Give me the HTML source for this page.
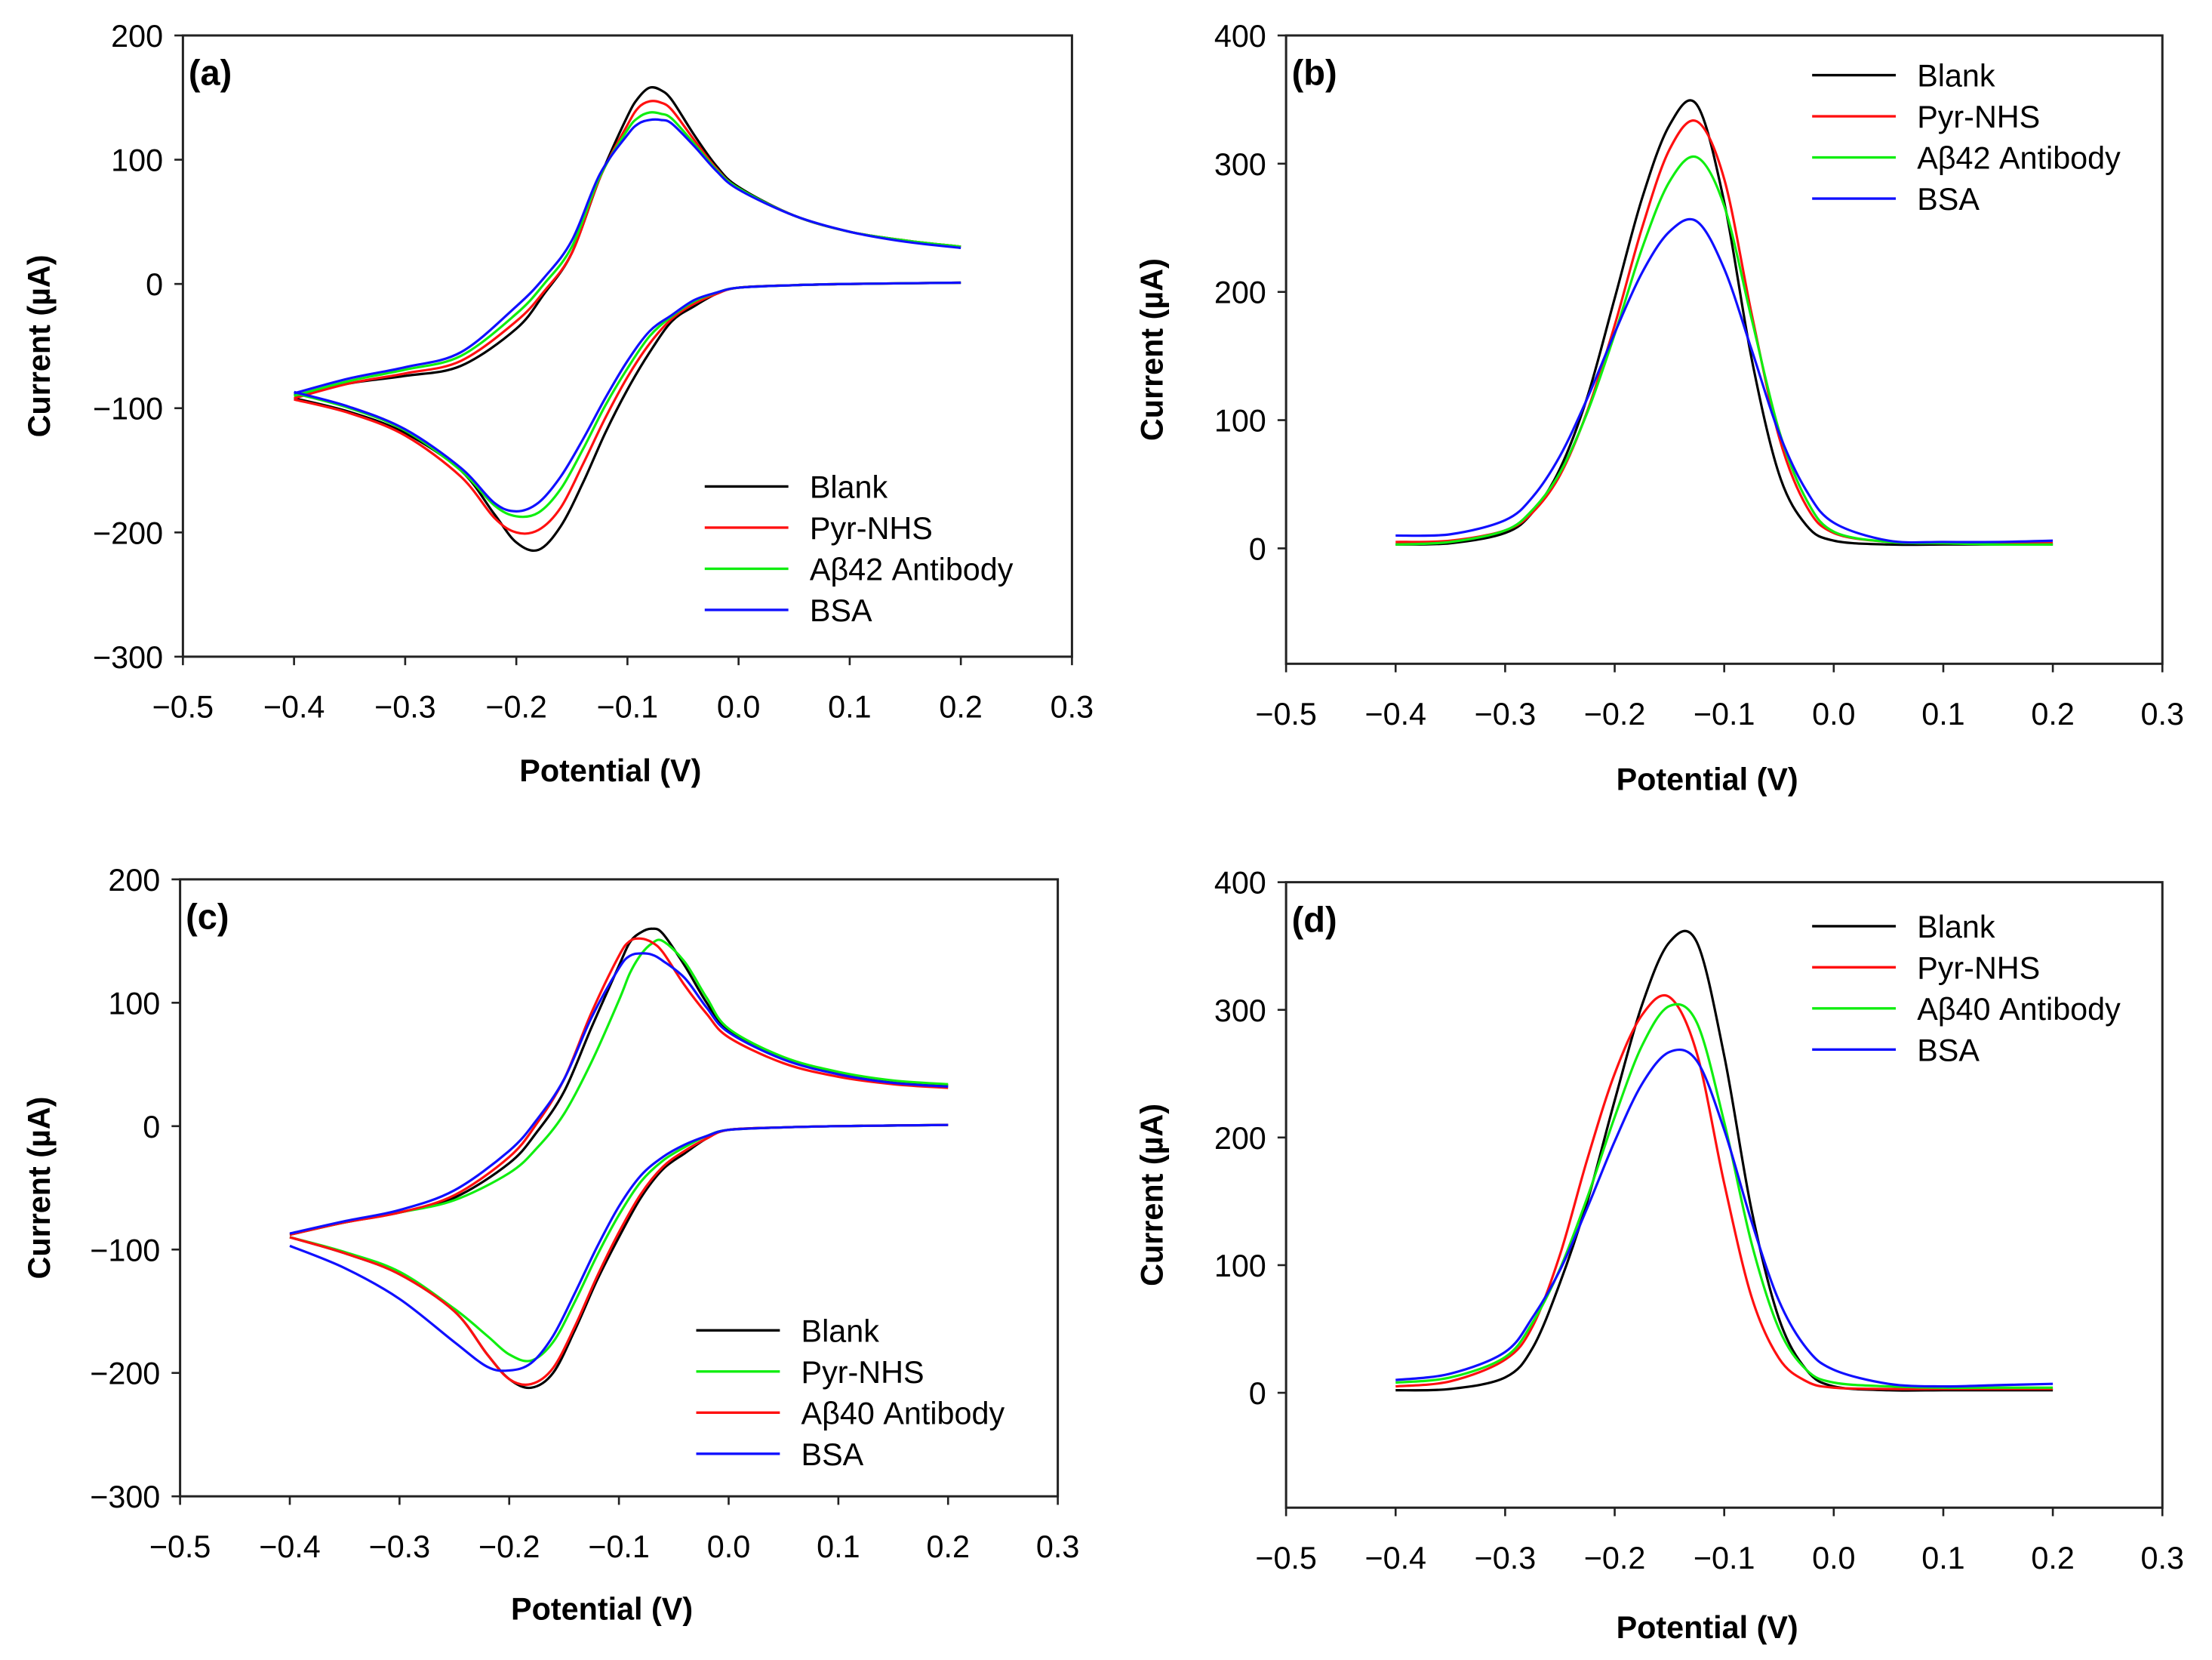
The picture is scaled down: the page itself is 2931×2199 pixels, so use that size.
<!DOCTYPE html>
<html><head><meta charset="utf-8"><style>
html,body{margin:0;padding:0;background:#fff;}
svg{display:block;}
text{font-family:"Liberation Sans",sans-serif;fill:#000;}
</style></head><body>
<svg id="fig" width="2931" height="2199" viewBox="0 0 1560 1170.4" preserveAspectRatio="none" xmlns="http://www.w3.org/2000/svg"></svg>
<script>
// ---- shared grids ----
const cvFwdE = [-0.4,-0.35,-0.3,-0.25,-0.2,-0.175,-0.15,-0.125,-0.1,-0.09,-0.08,-0.07,-0.06,-0.04,-0.02,0,0.05,0.1,0.15,0.2];
const cvRevE = [0.2,0.1,0.05,0,-0.02,-0.04,-0.06,-0.08,-0.1,-0.12,-0.14,-0.16,-0.18,-0.2,-0.22,-0.25,-0.3,-0.35,-0.4];
const dpvE = [-0.4,-0.35,-0.3,-0.275,-0.25,-0.225,-0.2,-0.175,-0.15,-0.125,-0.1,-0.075,-0.05,-0.025,0,0.05,0.1,0.15,0.2];
const xTicks = [-0.5,-0.4,-0.3,-0.2,-0.1,0.0,0.1,0.2,0.3];
const xTickLabels = ["\u22120.5","\u22120.4","\u22120.3","\u22120.2","\u22120.1","0.0","0.1","0.2","0.3"];
const cvYTicks = [-300,-200,-100,0,100,200];
const cvYTickLabels = ["\u2212300","\u2212200","\u2212100","0","100","200"];
const dpvYTicks = [0,100,200,300,400];
const dpvYTickLabels = ["0","100","200","300","400"];

// ---- panel (a) ----
const aBlankFwd = [-90,-80,-74,-66,-36,-8,25,85,135,150,158,156,148,120,95,78,55,42,35,30];
const aPyrFwd   = [-92,-80,-72,-62,-30,-6,25,85,128,142,147,146,140,116,93,77,55,42,35,30];
const aAbFwd    = [-90,-78,-69,-58,-24,0,30,86,124,134,138,137,133,113,92,77,55,42,35,30];
const aBsaFwd   = [-88,-76,-67,-55,-18,5,35,88,120,129,132,132,129,111,91,76,55,42,34,29];
const aBlankRev = [1,0,-1,-3,-8,-18,-30,-55,-85,-120,-160,-195,-214,-208,-185,-150,-120,-103,-92];
const aPyrRev   = [1,0,-1,-3,-8,-16,-28,-48,-75,-108,-145,-180,-198,-200,-188,-155,-122,-104,-93];
const aAbRev    = [1,0,-1,-3,-7,-14,-26,-42,-68,-98,-133,-165,-184,-187,-178,-150,-118,-100,-88];
const aBsaRev   = [1,0,-1,-3,-7,-13,-25,-38,-62,-92,-125,-155,-176,-183,-176,-148,-117,-99,-87];
// ---- panel (c) ----
const cBlankFwd = [-88,-78,-70,-58,-30,-5,28,80,130,149,157,160,156,130,100,77,55,43,36,33];
const cAbFwd    = [-88,-78,-70,-56,-25,2,38,92,138,150,152,149,141,114,91,72,51,40,34,31];
const cPyrFwd   = [-88,-78,-70,-60,-38,-18,10,52,102,124,139,148,150,133,104,79,56,44,37,34];
const cBsaFwd   = [-87,-77,-68,-52,-20,5,38,88,128,138,140,139,134,120,96,76,54,42,35,32];
const cBlankRev = [1,0,-1,-3,-10,-22,-35,-58,-90,-125,-165,-200,-212,-205,-185,-150,-120,-103,-90];
const cAbRev    = [1,0,-1,-3,-10,-20,-33,-55,-86,-122,-162,-196,-209,-205,-185,-150,-120,-103,-90];
const cPyrRev   = [1,0,-1,-3,-8,-17,-28,-45,-72,-105,-142,-175,-190,-185,-170,-148,-118,-102,-90];
const cBsaRev   = [1,0,-1,-3,-8,-15,-25,-40,-65,-98,-135,-170,-192,-198,-195,-175,-140,-115,-97];
// ---- panel (b) ----
const bBlank = [3,4,12,28,62,118,195,273,330,346,270,148,58,18,6,3,3,3,3];
const bPyr   = [5,6,14,28,57,107,174,250,311,333,288,183,87,33,12,5,4,4,4];
const bAb    = [3,5,14,30,59,106,167,234,286,305,267,179,92,38,13,5,4,3,3];
const bBsa   = [10,11,22,40,72,117,168,215,247,255,218,155,90,45,20,6,5,5,6];
// ---- panel (d) ----
const dBlank = [2,3,12,35,86,150,229,304,353,353,264,143,58,18,5,2,2,2,2];
const dPyr   = [5,9,26,52,108,183,250,296,310,266,164,75,27,9,4,3,3,3,3];
const dAb    = [8,12,28,55,97,153,216,272,303,290,212,117,50,18,8,5,4,4,4];
const dBsa   = [10,15,32,59,96,145,197,242,267,260,206,134,72,35,18,7,5,6,7];

const NS="http://www.w3.org/2000/svg";
const svg=document.getElementById('fig');
function mk(tag,attrs,parent){const e=document.createElementNS(NS,tag);for(const k in attrs)e.setAttribute(k,attrs[k]);(parent||svg).appendChild(e);return e;}
function smooth(pts){
  let d="M"+pts[0][0].toFixed(2)+","+pts[0][1].toFixed(2);
  for(let i=0;i<pts.length-1;i++){
    const p0=pts[Math.max(0,i-1)],p1=pts[i],p2=pts[i+1],p3=pts[Math.min(pts.length-1,i+2)];
    const c1=[p1[0]+(p2[0]-p0[0])/6,p1[1]+(p2[1]-p0[1])/6];
    const c2=[p2[0]-(p3[0]-p1[0])/6,p2[1]-(p3[1]-p1[1])/6];
    d+="C"+c1[0].toFixed(2)+","+c1[1].toFixed(2)+" "+c2[0].toFixed(2)+","+c2[1].toFixed(2)+" "+p2[0].toFixed(2)+","+p2[1].toFixed(2);
  }
  return d;
}
const COL={black:"#000000",red:"#ff1010",green:"#10ee10",blue:"#1010ff"};

function panel(cfg){
  const g=mk('g',{});
  
  
  const X=v=>cfg.L+(v-(-0.5))/0.8*(cfg.R-cfg.L);
  const Y=v=>cfg.B-(v-cfg.ymin)/(cfg.ymax-cfg.ymin)*(cfg.B-cfg.T);
  const frame=mk('rect',{x:cfg.L,y:cfg.T,width:cfg.R-cfg.L,height:cfg.B-cfg.T,fill:'none',stroke:'#222',"stroke-width":1.6},g);
  
  
  xTicks.forEach((t,i)=>{
    mk('line',{x1:X(t),x2:X(t),y1:cfg.B,y2:cfg.B+6,stroke:'#222',"stroke-width":1.4},g);
    const tx=mk('text',{x:X(t),y:cfg.B+43,"text-anchor":"middle","font-size":22},g);
    tx.textContent=xTickLabels[i];
    
    
  });
  cfg.yt.forEach((t,i)=>{
    mk('line',{x1:cfg.L-6,x2:cfg.L,y1:Y(t),y2:Y(t),stroke:'#222',"stroke-width":1.4},g);
    const ty=mk('text',{x:cfg.L-14,y:Y(t)+8,"text-anchor":"end","font-size":22},g);
    ty.textContent=cfg.ytl[i];
    
    
  });
  const xl=mk('text',{x:(cfg.L+cfg.R)/2-12,y:cfg.xlY,"text-anchor":"middle","font-size":22,"font-weight":"bold"},g);
  xl.textContent="Potential (V)";
  
  
  const yc=(cfg.T+cfg.B)/2;
  const yl=mk('text',{x:0,y:0,"text-anchor":"middle","font-size":22,"font-weight":"bold",transform:`translate(${cfg.ylX},${yc}) rotate(-90)`},g);
  yl.textContent="Current (\u00b5A)";
  
  
  const pl=mk('text',{x:cfg.L+4,y:cfg.T+35,"font-size":25,"font-weight":"bold"},g);
  pl.textContent=cfg.label;
  
  
  cfg.series.forEach(s=>{
    s.segs.forEach(seg=>{
      const pts=seg.e.map((e,i)=>[X(e),Y(seg.v[i])]);
      const p=mk('path',{d:smooth(pts),fill:'none',stroke:COL[s.c],"stroke-width":1.7},g);
      
      
    });
  });
  cfg.series.forEach((s,i)=>{
    const y=cfg.legY+i*29;
    const ll=mk('line',{x1:cfg.legX,x2:cfg.legX+59,y1:y,y2:y,stroke:COL[s.c],"stroke-width":1.8},g);
    
    
    const lt=mk('text',{x:cfg.legX+74,y:y+8,"font-size":22},g);
    lt.textContent=s.label;
    
    
  });
}

panel({name:'panel-a',label:'(a)',L:129,R:756,T:25,B:463,ymin:-300,ymax:200,yt:cvYTicks,ytl:cvYTickLabels,xlY:551,ylX:35,legX:497,legY:343,
 series:[
  {key:'blank',c:'black',label:'Blank',segs:[{e:cvFwdE,v:aBlankFwd},{e:cvRevE,v:aBlankRev}]},
  {key:'pyr-nhs',c:'red',label:'Pyr-NHS',segs:[{e:cvFwdE,v:aPyrFwd},{e:cvRevE,v:aPyrRev}]},
  {key:'ab42-antibody',c:'green',label:'A\u03b242 Antibody',segs:[{e:cvFwdE,v:aAbFwd},{e:cvRevE,v:aAbRev}]},
  {key:'bsa',c:'blue',label:'BSA',segs:[{e:cvFwdE,v:aBsaFwd},{e:cvRevE,v:aBsaRev}]}]});
panel({name:'panel-b',label:'(b)',L:907,R:1525,T:25,B:468,ymin:-90,ymax:400,yt:dpvYTicks,ytl:dpvYTickLabels,xlY:557,ylX:820,legX:1278,legY:53,
 series:[
  {key:'blank',c:'black',label:'Blank',segs:[{e:dpvE,v:bBlank}]},
  {key:'pyr-nhs',c:'red',label:'Pyr-NHS',segs:[{e:dpvE,v:bPyr}]},
  {key:'ab42-antibody',c:'green',label:'A\u03b242 Antibody',segs:[{e:dpvE,v:bAb}]},
  {key:'bsa',c:'blue',label:'BSA',segs:[{e:dpvE,v:bBsa}]}]});
panel({name:'panel-c',label:'(c)',L:127,R:746,T:620,B:1055,ymin:-300,ymax:200,yt:cvYTicks,ytl:cvYTickLabels,xlY:1142,ylX:35,legX:491,legY:938,
 series:[
  {key:'blank',c:'black',label:'Blank',segs:[{e:cvFwdE,v:cBlankFwd},{e:cvRevE,v:cBlankRev}]},
  {key:'pyr-nhs',c:'green',label:'Pyr-NHS',segs:[{e:cvFwdE,v:cPyrFwd},{e:cvRevE,v:cPyrRev}]},
  {key:'ab40-antibody',c:'red',label:'A\u03b240 Antibody',segs:[{e:cvFwdE,v:cAbFwd},{e:cvRevE,v:cAbRev}]},
  {key:'bsa',c:'blue',label:'BSA',segs:[{e:cvFwdE,v:cBsaFwd},{e:cvRevE,v:cBsaRev}]}]});
panel({name:'panel-d',label:'(d)',L:907,R:1525,T:622,B:1063,ymin:-90,ymax:400,yt:dpvYTicks,ytl:dpvYTickLabels,xlY:1155,ylX:820,legX:1278,legY:653,
 series:[
  {key:'blank',c:'black',label:'Blank',segs:[{e:dpvE,v:dBlank}]},
  {key:'pyr-nhs',c:'red',label:'Pyr-NHS',segs:[{e:dpvE,v:dPyr}]},
  {key:'ab40-antibody',c:'green',label:'A\u03b240 Antibody',segs:[{e:dpvE,v:dAb}]},
  {key:'bsa',c:'blue',label:'BSA',segs:[{e:dpvE,v:dBsa}]}]});
</script>
</body></html>
